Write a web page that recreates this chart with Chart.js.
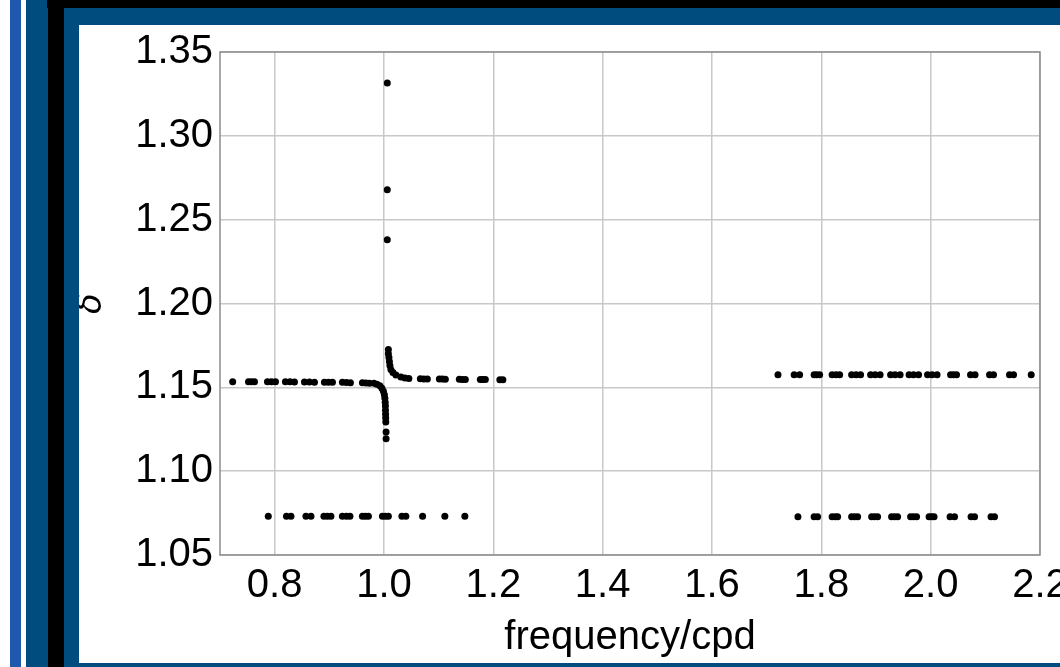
<!DOCTYPE html>
<html>
<head>
<meta charset="utf-8">
<script src="https://cdn.jsdelivr.net/npm/chart.js@4"></script>
<style>
  html, body { margin: 0; padding: 0; width: 1060px; height: 667px; overflow: hidden; background: #fff; }
  .bar { position: absolute; }
  #wrap { position: absolute; left: 79px; top: 25px; width: 1020px; height: 638px; }
</style>
</head>
<body>
<!-- frame -->
<div class="bar" style="left:10px;top:0;width:11px;height:667px;background:#1f58ad"></div>
<div class="bar" style="left:26px;top:0;width:22px;height:667px;background:#004c7e"></div>
<div class="bar" style="left:47px;top:0;width:1013px;height:8px;background:#000"></div>
<div class="bar" style="left:48px;top:0;width:16px;height:667px;background:#000"></div>
<div class="bar" style="left:64px;top:8px;width:15px;height:659px;background:#004c7e"></div>
<div class="bar" style="left:64px;top:8px;width:996px;height:17px;background:#004c7e"></div>
<div class="bar" style="left:64px;top:663px;width:996px;height:4px;background:#004c7e"></div>
<div id="wrap"><canvas id="deltaChart" width="1020" height="638"></canvas></div>

<script>
// branch coming from low frequencies, bending down at the resonance
var branchAFreq = [0.7232, 0.7521, 0.7576, 0.7631, 0.7868, 0.7941, 0.8015, 0.8197, 0.8280, 0.8362,
    0.8545, 0.8636, 0.8728, 0.8910, 0.8984, 0.9057, 0.9239, 0.9313, 0.9386, 0.9605, 0.9669, 0.9733,
    0.9815, 0.9870, 0.9925, 0.9962, 0.9989, 1.0007, 1.0016, 1.0022, 1.0026, 1.0027, 1.0029, 1.0031,
    1.0033, 1.0038, 1.0038];
var branchADelta = [1.1533, 1.1533, 1.1533, 1.1533, 1.1533, 1.1533, 1.1533, 1.1533, 1.1533, 1.1532,
    1.1532, 1.1532, 1.1531, 1.1531, 1.1531, 1.1530, 1.1530, 1.1529, 1.1528, 1.1527, 1.1526, 1.1525,
    1.1524, 1.1519, 1.1509, 1.1494, 1.1476, 1.1456, 1.1435, 1.1411, 1.1388, 1.1364, 1.1340, 1.1317,
    1.1293, 1.1234, 1.1194];

// branch coming down from above the resonance, going to high frequencies
var branchBFreq = [1.0080, 1.0080, 1.0090, 1.0099, 1.0108, 1.0126, 1.0163, 1.0218, 1.0309, 1.0382,
    1.0455, 1.0665, 1.0729, 1.0793, 1.1013, 1.1068, 1.1122, 1.1378, 1.1433, 1.1488, 1.1762, 1.1808,
    1.1854, 1.2119, 1.2174];
var branchBDelta = [1.1725, 1.1701, 1.1678, 1.1654, 1.1630, 1.1607, 1.1589, 1.1574, 1.1561, 1.1556,
    1.1553, 1.1551, 1.1550, 1.1550, 1.1549, 1.1549, 1.1548, 1.1548, 1.1547, 1.1547, 1.1546, 1.1546,
    1.1546, 1.1545, 1.1545];

// isolated points right at the resonance
var spikeFreq = [1.0060, 1.0060, 1.0060];
var spikeDelta = [1.3315, 1.2679, 1.2380];

// lower line, first group
var lowAFreq = [0.7883, 0.8216, 0.8298, 0.8572, 0.8664, 0.8901, 0.8965, 0.9029, 0.9239, 0.9313,
    0.9377, 0.9605, 0.9660, 0.9715, 0.9971, 1.0026, 1.0080, 1.0327, 1.0400, 1.0706, 1.1113, 1.1479];
var lowADelta = [1.0731, 1.0731, 1.0731, 1.0731, 1.0731, 1.0731, 1.0731, 1.0731, 1.0731, 1.0731,
    1.0731, 1.0731, 1.0731, 1.0731, 1.0731, 1.0731, 1.0731, 1.0731, 1.0731, 1.0731, 1.0731, 1.0731];

// upper line, second group
var highBFreq = [1.7207, 1.7503, 1.7603, 1.7868, 1.7914, 1.7969, 1.8197, 1.8271, 1.8335, 1.8554,
    1.8636, 1.8718, 1.8901, 1.8984, 1.9075, 1.9267, 1.9349, 1.9441, 1.9605, 1.9687, 1.9779, 1.9943,
    2.0026, 2.0117, 2.0364, 2.0419, 2.0473, 2.0729, 2.0812, 2.1077, 2.1150, 2.1442, 2.1516, 2.1839];
var highBDelta = [1.1575, 1.1575, 1.1575, 1.1575, 1.1575, 1.1575, 1.1575, 1.1575, 1.1575, 1.1575,
    1.1575, 1.1575, 1.1575, 1.1575, 1.1575, 1.1575, 1.1575, 1.1575, 1.1575, 1.1575, 1.1575, 1.1575,
    1.1575, 1.1575, 1.1575, 1.1575, 1.1575, 1.1575, 1.1575, 1.1575, 1.1575, 1.1575, 1.1575, 1.1575];

// lower line, second group
var lowBFreq = [1.7572, 1.7868, 1.7932, 1.8197, 1.8252, 1.8298, 1.8554, 1.8609, 1.8664, 1.8920,
    1.8974, 1.9029, 1.9285, 1.9340, 1.9395, 1.9633, 1.9687, 1.9742, 1.9971, 2.0016, 2.0062, 2.0355,
    2.0437, 2.0739, 2.0803, 2.1104, 2.1168];
var lowBDelta = [1.0728, 1.0728, 1.0728, 1.0728, 1.0728, 1.0728, 1.0728, 1.0728, 1.0728, 1.0728,
    1.0728, 1.0728, 1.0728, 1.0728, 1.0728, 1.0728, 1.0728, 1.0728, 1.0728, 1.0728, 1.0728, 1.0728,
    1.0728, 1.0728, 1.0728, 1.0728, 1.0728];

var xTicks = [0.8, 1.0, 1.2, 1.4, 1.6, 1.8, 2.0, 2.2];
var yTicks = [1.05, 1.10, 1.15, 1.20, 1.25, 1.30, 1.35];

function pts(fs, ds) {
    return fs.map(function (f, i) { return { x: f, y: ds[i] }; });
}

function dots(label, fs, ds) {
    return {
        label: label,
        data: pts(fs, ds),
        backgroundColor: "#000",
        borderWidth: 0,
        pointRadius: 3.5,
        pointHoverRadius: 3.5
    };
}

// top and right edges of the plot box
var boxPlugin = {
    id: "box",
    beforeDatasetsDraw: function (chart) {
        var a = chart.chartArea, ctx = chart.ctx;
        ctx.save();
        ctx.strokeStyle = "#8c8c8c";
        ctx.lineWidth = 1.5;
        ctx.strokeRect(a.left, a.top, a.right - a.left, a.bottom - a.top);
        ctx.restore();
    }
};

var tickFont = { family: "'Liberation Sans', Arial, sans-serif", size: 40, lineHeight: 1 };

var ctx = document.getElementById("deltaChart").getContext("2d");
var deltaChart = new Chart(ctx, {
    type: "scatter",
    data: {
        datasets: [
            dots("branch A", branchAFreq, branchADelta),
            dots("branch B", branchBFreq, branchBDelta),
            dots("spike", spikeFreq, spikeDelta),
            dots("low A", lowAFreq, lowADelta),
            dots("high B", highBFreq, highBDelta),
            dots("low B", lowBFreq, lowBDelta)
        ]
    },
    options: {
        responsive: false,
        animation: false,
        devicePixelRatio: 1,
        layout: { padding: { left: 0, top: 23, right: 59, bottom: 0 } },
        plugins: { legend: { display: false }, tooltip: { enabled: false } },
        scales: {
            x: {
                type: "linear",
                min: 0.7,
                max: 2.2,
                afterBuildTicks: function (s) { s.ticks = xTicks.map(function (v) { return { value: v }; }); },
                afterFit: function (s) { s.height = 108; },
                grid: { color: "#c8c8c8", lineWidth: 1.5, drawTicks: false },
                border: { display: false },
                ticks: {
                    padding: 11,
                    color: "#000",
                    font: tickFont,
                    maxRotation: 0,
                    callback: function (v) { return v.toFixed(1); }
                },
                title: {
                    display: true,
                    text: "frequency/cpd",
                    color: "#000",
                    font: tickFont,
                    padding: { top: 0, bottom: 5 }
                }
            },
            y: {
                type: "linear",
                min: 1.05,
                max: 1.35,
                afterBuildTicks: function (s) { s.ticks = yTicks.map(function (v) { return { value: v }; }); },
                afterFit: function (s) { s.width = 141; },
                grid: { color: "#c8c8c8", lineWidth: 1.5, drawTicks: false },
                border: { display: false },
                ticks: {
                    padding: 7,
                    color: "#000",
                    font: tickFont,
                    callback: function (v) { return v.toFixed(2); }
                },
                title: {
                    display: true,
                    text: "δ",
                    color: "#000",
                    font: { family: "'DejaVu Sans', sans-serif", size: 34, style: "italic", lineHeight: 0.8 },
                    padding: { top: 0, bottom: 0 }
                }
            }
        }
    },
    plugins: [boxPlugin]
});
</script>
</body>
</html>
